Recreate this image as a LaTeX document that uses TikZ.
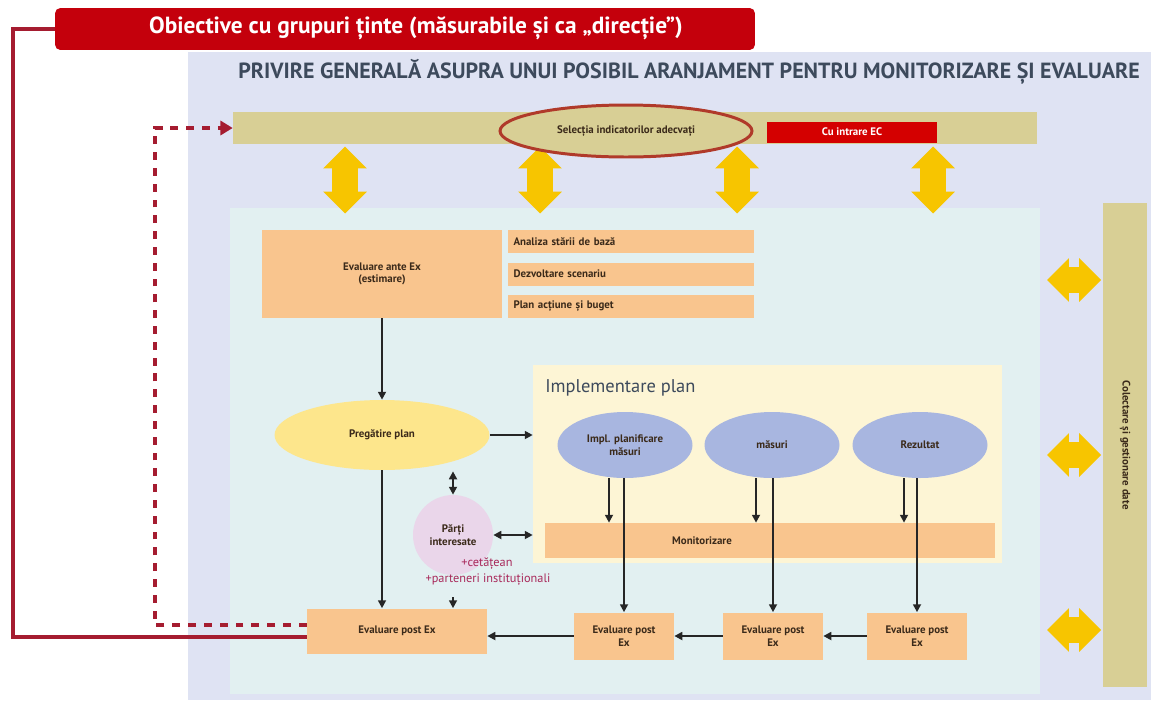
\documentclass[tikz,border=0pt]{standalone}
\usepackage{fontspec}
\setmainfont{PT Sans}
\usetikzlibrary{arrows.meta,shapes.geometric,shapes.arrows}

\definecolor{panelbg}{HTML}{DFE3F3}
\definecolor{innerbg}{HTML}{E2F0F1}
\definecolor{khaki}{HTML}{D8CF95}
\definecolor{headred}{HTML}{C4000C}
\definecolor{ecred}{HTML}{D40000}
\definecolor{ringred}{HTML}{B03A2A}
\definecolor{loopred}{HTML}{A51C30}
\definecolor{flowyellow}{HTML}{F7C500}
\definecolor{boxorange}{HTML}{F9C58E}
\definecolor{prepyellow}{HTML}{FDE68C}
\definecolor{implcream}{HTML}{FDF5D5}
\definecolor{stepblue}{HTML}{A8B6E0}
\definecolor{partypink}{HTML}{EAD6EA}
\definecolor{boxtext}{HTML}{3B2A1A}
\definecolor{titlegray}{HTML}{3D4A5C}
\definecolor{partyred}{HTML}{A8285A}

\newcommand{\tinyfont}{\bfseries\fontsize{6.2}{7.2}\selectfont}

\tikzset{
  box/.style={rectangle, fill=boxorange, text=boxtext, font=\tinyfont, inner sep=1pt, align=center},
  listbox/.style={box, minimum width=4.92cm, minimum height=0.46cm, text width=4.7cm, align=left},
  postbox/.style={box, minimum width=2cm, minimum height=0.94cm},
  stepell/.style={ellipse, fill=stepblue, text=boxtext, font=\tinyfont, minimum width=2.7cm, minimum height=1.32cm, inner sep=0pt, align=center},
  yarrow/.style={double arrow, fill=flowyellow, inner xsep=0pt, inner ysep=0.25cm, double arrow head extend=0.18cm},
  arr/.style={-{Triangle[length=4.5pt,width=4.5pt]}, line width=1.1pt, draw=black!85},
  darr/.style={{Triangle[length=4.5pt,width=4.5pt]}-{Triangle[length=4.5pt,width=4.5pt]}, line width=1.1pt, draw=black!85},
}

\begin{document}
\begin{tikzpicture}[x=0.02cm, y=-0.02cm]
  \useasboundingbox (0,0) rectangle (1151,700);

  % background panels
  \fill[panelbg] (188,52) rectangle (1151,700);
  \fill[innerbg] (230,208) rectangle (1040,694);

  % headline and loop back
  \node[rectangle, rounded corners=3pt, fill=headred, text=white, font=\bfseries\fontsize{13.3}{15}\selectfont,
        minimum width=14cm, minimum height=0.84cm] (header) at (405,29) {};
  \node[text=white, font=\bfseries\fontsize{13.3}{15}\selectfont] (headertext) at (416,28)
        {Obiective cu grupuri ținte (măsurabile și ca „direcție”)};
  \node[font=\bfseries\fontsize{12.5}{14}\selectfont, text=titlegray] (title) at (689,72)
        {PRIVIRE GENERALĂ ASUPRA UNUI POSIBIL ARANJAMENT PENTRU MONITORIZARE ȘI EVALUARE};

  % exchange arrows under the indicator bar
  \foreach \x [count=\i] in {345,540,737,933}
    \node[yarrow, rotate=90, minimum height=1.34cm] (down\i) at (\x,180) {};

  % indicator bar
  \node[rectangle, fill=khaki, minimum width=16.08cm, minimum height=0.64cm] (topbar) at (635,128) {};
  \node[ellipse, draw=ringred, line width=1.7pt, fill=khaki, text=boxtext, font=\tinyfont,
        minimum width=5.04cm, minimum height=1.04cm] (select) at (626,131) {Selecția indicatorilor adecvați};
  \node[rectangle, fill=ecred, text=white, font=\tinyfont, minimum width=3.4cm, minimum height=0.42cm] (ecinput) at (852,132) {Cu intrare EC};

  % data collection bar
  \node[rectangle, fill=khaki, minimum width=0.88cm, minimum height=9.7cm] (databar) at (1125,445) {};
  \node[rotate=-90, text=boxtext, font=\tinyfont] (datalbl) at (1125,445) {Colectare și gestionare date};
  \foreach \y [count=\i] in {280,455,630}
    \node[yarrow, minimum height=1.08cm] (side\i) at (1074,\y) {};

  % ante evaluation
  \node[box, minimum width=4.8cm, minimum height=1.76cm] (ante) at (382,274) {Evaluare ante Ex\\(estimare)};
  \node[listbox] (baseline) at (631,241.5) {Analiza stării de bază};
  \node[listbox] (scenario) at (631,274) {Dezvoltare scenariu};
  \node[listbox] (budget) at (631,306) {Plan acțiune și buget};

  \node[ellipse, fill=prepyellow, text=boxtext, font=\tinyfont, minimum width=4.3cm, minimum height=1.4cm] (prep) at (382,435) {Pregătire plan};

  % implementation
  \node[rectangle, fill=implcream, minimum width=9.38cm, minimum height=3.96cm] (implpanel) at (767.5,464) {};
  \node[anchor=west, text=titlegray, font=\fontsize{10.5}{12}\selectfont, inner sep=0pt] (impltitle) at (545,388) {Implementare plan};

  \node[stepell] (impl) at (625,445) {Impl. planificare\\măsuri};
  \node[stepell] (measures) at (772,445) {măsuri};
  \node[stepell] (result) at (920,445) {Rezultat};

  \node[box, minimum width=9cm, minimum height=0.7cm] (monit) at (770,540.5) {};
  \node[text=boxtext, font=\tinyfont] (monitlbl) at (702,540.5) {Monitorizare};

  % stakeholders
  \node[circle, fill=partypink, text=boxtext, font=\tinyfont, minimum size=1.6cm, align=center, inner sep=0pt] (parties) at (453,535) {Părți\\interesate};
  \node[text=partyred, font=\fontsize{7}{8}\selectfont, inner sep=0pt] (citizen) at (487,564) {+cetățean};
  \node[text=partyred, font=\fontsize{7}{8}\selectfont, inner sep=0pt] (partners) at (488,580) {+parteneri instituționali};
  \coordinate (partiesend) at (453,597);

  % post evaluation
  \node[box, minimum width=3.6cm, minimum height=0.9cm] (postex) at (397,631) {Evaluare post Ex};
  \node[postbox] (postA) at (624,636) {Evaluare post\\Ex};
  \node[postbox] (postB) at (773,636) {Evaluare post\\Ex};
  \node[postbox] (postC) at (917,636) {Evaluare post\\Ex};

  % flow arrows
  \draw[arr] (ante.south) -- (prep.north);
  \draw[arr] (prep.east) -- (prep.east -| implpanel.west);
  \draw[arr] (prep.south) -- (prep.south |- postex.north);
  \draw[darr] ([yshift=-0.02cm]prep.south -| parties.north) -- (parties.north);
  \draw[darr] (parties.east) -- (parties.east -| implpanel.west);
  \draw[arr] (partiesend) -- (partiesend |- postex.north);

  \foreach \n/\p in {impl/postA, measures/postB, result/postC} {
    \draw[arr] ([xshift=-0.32cm]\n.south) -- ([xshift=-0.32cm]\n.south |- monit.north);
    \draw[arr] (\p.north |- \n.south) -- (\p.north);
  }

  \draw[arr] (postC.west) -- (postB.east);
  \draw[arr] (postB.west) -- (postA.east);
  \draw[arr] (postA.west) -- (postA.west -| postex.east);

  % red feedback lines
  \coordinate (loopcorner) at (13,637);
  \coordinate (dashcorner) at (155,625);
  \draw[loopred, line width=2pt] (header.west) -| (loopcorner) -- (loopcorner -| postex.west);
  \draw[loopred, line width=1.8pt, dash pattern=on 4.5pt off 4.5pt, -{Triangle[length=7pt,width=8pt]}]
    (dashcorner -| postex.west) -- (dashcorner) |- (topbar.west);
\end{tikzpicture}
\end{document}
